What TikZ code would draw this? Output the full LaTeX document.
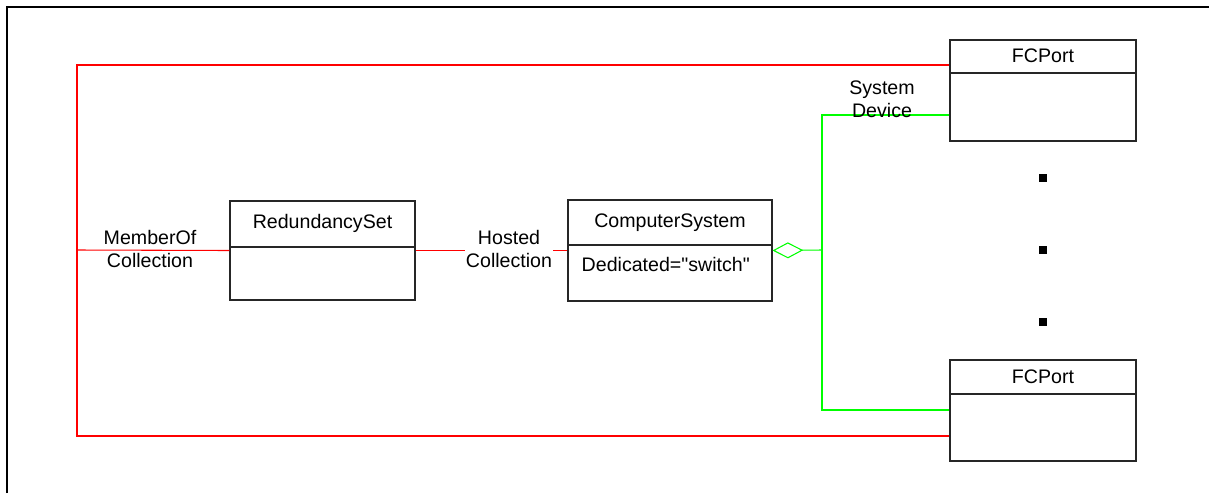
\documentclass[tikz,border=0pt]{standalone}
\usepackage{fontspec}
\setmainfont{Liberation Sans}
\usetikzlibrary{arrows.meta,fit,calc}
\colorlet{assocred}{red}
\colorlet{aggrgreen}{green}

\begin{document}
\begin{tikzpicture}[x=0.75pt,y=-0.75pt,font=\fontsize{14.7}{17.3}\selectfont,
    classbox/.style={draw=black!85,line width=0.8pt,inner sep=0pt},
    assoc/.style={draw=assocred,line width=0.8pt},
    aggr/.style={draw=aggrgreen,line width=0.8pt},
    role/.style={align=center,inner sep=1pt}]

        % \umlclass{name}{top left}{bottom right}{divider y}{title}
        \def\umlclass#1#2#3#4#5{%
            \coordinate (#1-nw) at #2;
            \coordinate (#1-se) at #3;
            \node[classbox,fit=(#1-nw)(#1-se)] (#1) {};
            \draw[classbox] (#1.west |- 0,#4) -- (#1.east |- 0,#4);
            \node (#1-title) at ($(#1.north)!0.5!(#1.north |- 0,#4)$) {#5};
        }

        \useasboundingbox (0,0) rectangle (1209,493);

        % FRAME
        \draw[line width=1.5pt] (7,493) -- (7,7) -- (1209,7);

        % CLASSES
        \umlclass{rs}{(230,201)}{(415,300)}{247}{RedundancySet}
        \umlclass{cs}{(568,200)}{(772,301)}{245}{ComputerSystem}
        \umlclass{fcA}{(950,40)}{(1136,141)}{73}{FCPort}
        \umlclass{fcB}{(950,360)}{(1136,461)}{394}{FCPort}
        \node[anchor=base west] (cs-attr) at (577,271)
            {Dedicated=\textquotedbl switch\textquotedbl};

        % ELLIPSIS
        \foreach \yy in {178,250,322}
            \fill (1039,\yy-4) rectangle ++(8,8);

        % ASSOCIATIONS
        \coordinate (mc) at (77,250);
        \draw[assoc] (fcA.west |- 0,65) -| (mc) |- (fcB.west |- 0,436);
        \draw[assoc] (mc) -- (rs.west);
        \draw[assoc] (rs.east) -- (cs.west);

        % AGGREGATION
        \coordinate (sj) at (822,250);
        \draw[aggr,{Diamond[open,length=23pt,width=12pt]}-] (cs.east) -- (sj);
        \draw[aggr] (fcA.west |- 0,115) -| (sj) |- (fcB.west |- 0,410);

        % ROLES
        \node[role] (mo) at (150,249) {MemberOf\\Collection};
        \node[role,fill=white] (hc) at (509,249) {Hosted\\Collection};
        \node[role] (sd) at (882,99) {System\\Device};

    \end{tikzpicture}
\end{document}
